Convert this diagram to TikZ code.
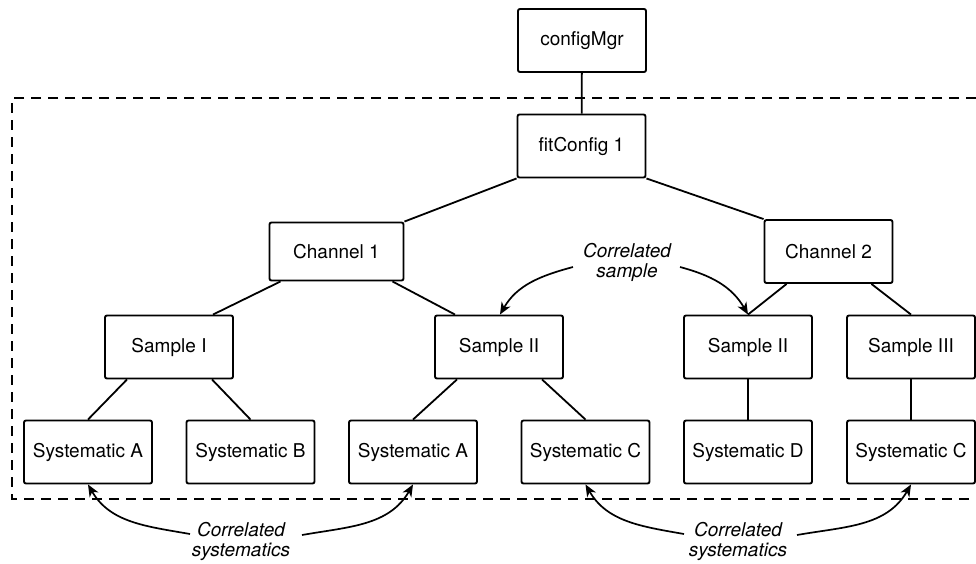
\documentclass[tikz,border=0pt]{standalone}
\usepackage{fontspec}
\setmainfont{TeX Gyre Heros}
\usetikzlibrary{arrows.meta}
\begin{document}
\begin{tikzpicture}[x=1pt,y=-1pt,
  box/.style={draw,line width=1.9pt,rounded corners=2pt,minimum width=128pt,minimum height=63pt,inner sep=0pt,font=\fontsize{19}{22}\selectfont},
  conn/.style={line width=1.8pt},
  corr/.style={line width=1.7pt,-{Stealth[length=12pt,width=10pt,inset=3.5pt]}},
  lbl/.style={font=\fontsize{19}{23}\selectfont\itshape,align=center}]
\useasboundingbox (0,0) rectangle (976,563);
\draw[line width=1.7pt,dash pattern=on 10pt off 7pt] (976,98) -- (12,98) -- (12,499) -- (976,499);
\node[box] (cm) at (582,40.5) {configMgr};
\node[box] (fc) at (581.5,146) {fitConfig 1};
\node[box,minimum width=134pt,minimum height=58pt] (ch1) at (336.5,251.5) {Channel 1};
\node[box] (ch2) at (828.5,251.5) {Channel 2};
\node[box] (s1) at (169,347) {Sample I};
\node[box] (s2a) at (499,347) {Sample II};
\node[box] (s2b) at (748,347) {Sample II};
\node[box] (s3) at (911,347) {Sample III};
\node[box] (sa1) at (88,452) {Systematic A};
\node[box] (sb) at (250.5,452) {Systematic B};
\node[box] (sa2) at (413,452) {Systematic A};
\node[box] (sc1) at (585.5,452) {Systematic C};
\node[box] (sd) at (748,452) {Systematic D};
\node[box] (sc2) at (911,452) {Systematic C};
% tree connectors
\draw[conn] (cm) -- (fc);
\draw[conn] (fc.south west) -- (ch1.north east);
\draw[conn] (fc.south east) -- (ch2.north west);
\coordinate (c1a) at ([xshift=12pt]ch1.south west);
\coordinate (s1t) at ([xshift=44pt]s1.north);
\draw[conn] (c1a) -- (s1t);
\coordinate (c1b) at ([xshift=-12pt]ch1.south east);
\coordinate (s2at) at ([xshift=-44pt]s2a.north);
\draw[conn] (c1b) -- (s2at);
\coordinate (c2a) at ([xshift=23pt]ch2.south west);
\coordinate (c2b) at ([xshift=-22pt]ch2.south east);
\draw[conn] (c2a) -- (s2b.north);
\draw[conn] (c2b) -- (s3.north);
\draw[conn] ([xshift=-42pt]s1.south) -- (sa1.north);
\draw[conn] ([xshift=43pt]s1.south) -- (sb.north);
\draw[conn] ([xshift=-42pt]s2a.south) -- (sa2.north);
\draw[conn] ([xshift=43pt]s2a.south) -- (sc1.north);
\draw[conn] (s2b) -- (sd);
\draw[conn] (s3) -- (sc2);
% correlated sample
\node[lbl] (cs) at (627,262) {Correlated\\[-3pt]sample};
\draw[corr] (573,267) to[out=195,in=60] ([xshift=1pt]s2a.north);
\draw[corr] (680,267) to[out=-15,in=120] (s2b.north);
% correlated systematics
\node[lbl] (csl) at (241,541) {Correlated\\[-3pt]systematics};
\node[lbl] (csr) at (738,541) {Correlated\\[-3pt]systematics};
\draw[corr] (190,534) to[out=170,in=-60] (sa1.south);
\draw[corr] (302,535) to[out=10,in=-120] (sa2.south);
\draw[corr] (684,534) to[out=170,in=-60] (sc1.south);
\draw[corr] (797,535) to[out=10,in=-120] (sc2.south);
\end{tikzpicture}
\end{document}
